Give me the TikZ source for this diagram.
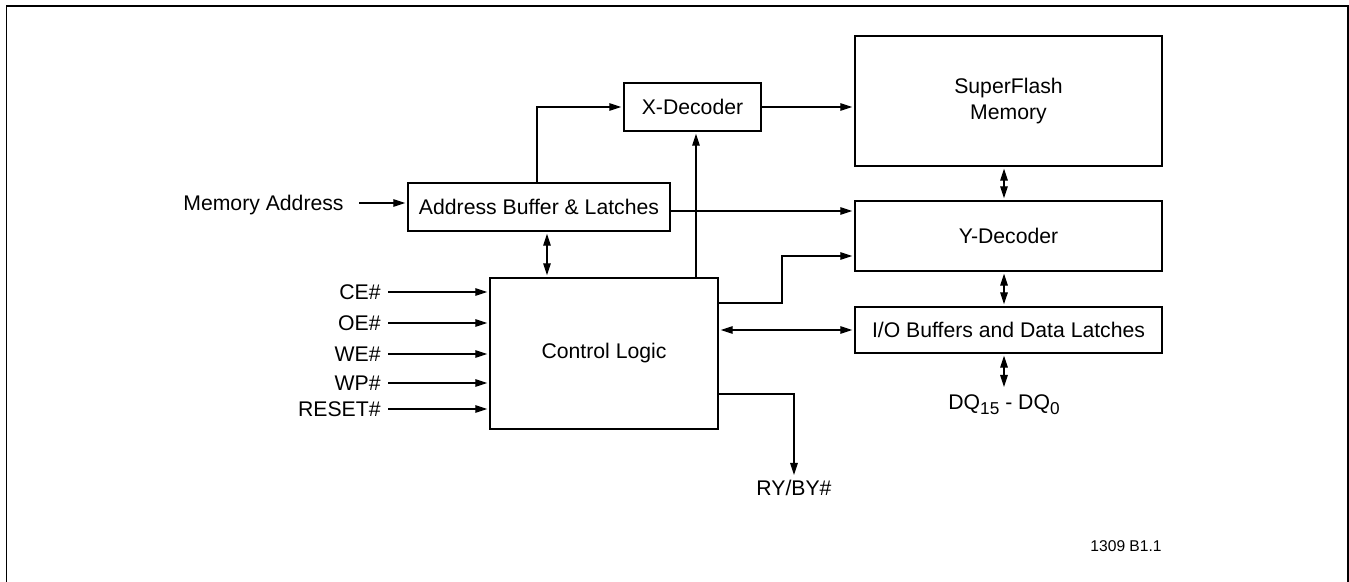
\documentclass[tikz,border=0pt]{standalone}
\usepackage{fontspec}
\setmainfont{Liberation Sans}
\usetikzlibrary{arrows.meta}
\newcommand{\lowsub}[1]{\raisebox{-2.6pt}{\fontsize{8.6}{9}\selectfont #1}}
\begin{document}
\begin{tikzpicture}[x=0.5pt,y=-0.5pt,
  font=\fontsize{10.6}{13.2}\selectfont,
  blk/.style={draw, line width=0.7pt, inner sep=0pt, align=center},
  lbl/.style={inner xsep=3.5pt, inner ysep=0pt, text height=7.6pt, text depth=0pt},
  wire/.style={line width=0.6pt},
  tip/.style={Triangle[length=6pt,width=3.8pt]},
  arr/.style={wire, -{Triangle[length=6pt,width=3.8pt]}, shorten >=1pt},
  darr/.style={wire, {Triangle[length=6pt,width=3.8pt]}-{Triangle[length=6pt,width=3.8pt]}, shorten >=1pt, shorten <=1pt}]
\useasboundingbox (0,0) rectangle (1349,582);
\begin{scope}
\clip (0,0) rectangle (1349,582);
\draw[line width=0.9pt] (6.5,600) -- (6.5,5.7) -- (1347.7,5.7) -- (1347.7,600);
\end{scope}
% blocks
\node[blk, minimum width=68.5pt, minimum height=24pt] (xdec) at (692.5,107) {X-Decoder};
\node[blk, minimum width=153.5pt, minimum height=65pt] (sfm) at (1008.5,101) {SuperFlash\\Memory};
\node[blk, minimum width=153.5pt, minimum height=35pt] (ydec) at (1008.5,236) {Y-Decoder};
\node[blk, minimum width=153.5pt, minimum height=23pt] (iob) at (1008.5,330) {I/O Buffers and Data Latches};
\node[blk, minimum width=131pt, minimum height=24pt] (addr) at (539,207) {Address Buffer \& Latches};
\node[blk, minimum width=114pt, minimum height=75.5pt] (ctrl) at (604,353.5) {Control Logic};
% labels
\node[lbl, anchor=east, inner xsep=7.5pt] (ma) at (359,203) {Memory Address};
\node[lbl, anchor=east] (ce) at (388,292) {CE\#};
\node[lbl, anchor=east] (oe) at (388,323) {OE\#};
\node[lbl, anchor=east] (we) at (388,354) {WE\#};
\node[lbl, anchor=east] (wp) at (388,383) {WP\#};
\node[lbl, anchor=east] (rst) at (388,409) {RESET\#};
\node[lbl, anchor=north, inner ysep=2.5pt] (ry) at (794,475) {RY/BY\#};
\node[anchor=north, inner sep=3.5pt, text height=7.6pt] (dq) at (1004,387) {DQ\lowsub{15} - DQ\lowsub{0}};
\node[anchor=east, inner sep=0pt, font=\fontsize{7.8}{9}\selectfont] (fig) at (1162,546) {1309 B1.1};
% helper coordinates
\coordinate (ax) at (537,0);
\coordinate (cx) at (696,0);
\coordinate (dx) at (547,0);
\coordinate (vx) at (1004,0);
\coordinate (yx) at (782,0);
\coordinate (ay) at (0,211);
\coordinate (c1) at (0,303);
\coordinate (c2) at (0,256);
\coordinate (r1) at (0,394);
% connectors
\draw[arr] (ma.east) -- (ma.east -| addr.west);
\draw[arr] (addr.north -| ax) |- (xdec.west);
\draw[arr] (xdec.east) -- (xdec.east -| sfm.west);
\draw[arr] (addr.east |- ay) -- (ydec.west |- ay);
\draw[arr] (ctrl.north -| cx) -- (xdec.south -| cx);
\draw[darr] (addr.south -| dx) -- (ctrl.north -| dx);
\draw[arr] (ctrl.east |- c1) -| (yx |- c2) -- (ydec.west |- c2);
\draw[darr] (ctrl.east |- iob.west) -- (iob.west);
\draw[wire, -{Triangle[length=6pt,width=3.8pt]}] (ctrl.east |- r1) -| (ry.north);
\draw[darr] (sfm.south -| vx) -- (ydec.north -| vx);
\draw[darr] (ydec.south -| vx) -- (iob.north -| vx);
\draw[wire, {Triangle[length=6pt,width=3.8pt]}-{Triangle[length=6pt,width=3.8pt]}, shorten <=1pt] (iob.south -| vx) -- (dq.north);
\foreach \s in {ce,oe,we,wp,rst}
  \draw[arr] (\s.east) -- (\s.east -| ctrl.west);
\end{tikzpicture}
\end{document}
